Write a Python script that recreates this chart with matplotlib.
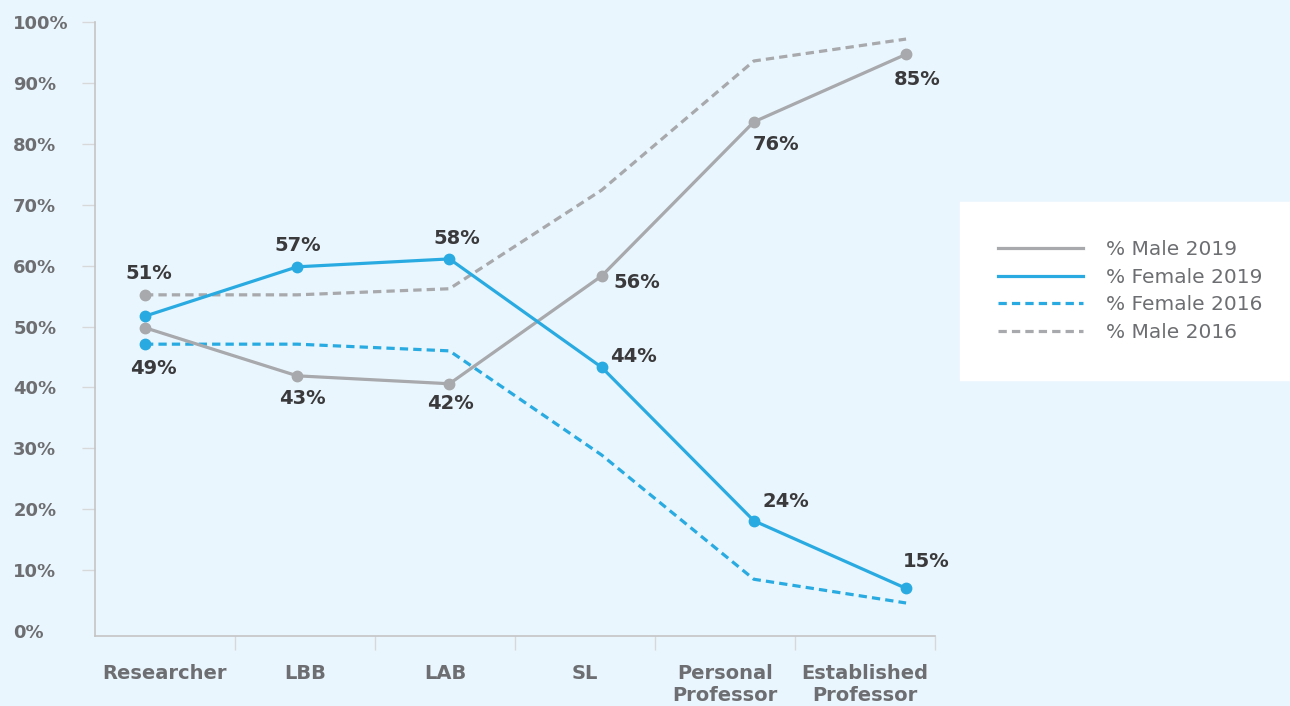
import numpy as np
import matplotlib
matplotlib.use("Agg")
import matplotlib.pyplot as plt
from matplotlib.lines import Line2D

# ---------------- data ----------------
categories = ["Researcher", "LBB", "LAB", "SL", "Personal\nProfessor", "Established\nProfessor"]
male_2019 = [49.8, 41.9, 40.6, 58.3, 83.6, 94.7]
female_2019 = [51.7, 59.8, 61.1, 43.3, 18.1, 7.0]
female_2016 = [47.1, 47.1, 46.0, 28.9, 8.5, 4.6]
male_2016 = [55.2, 55.2, 56.2, 72.4, 93.6, 97.2]
male_2019_labels = ["49%", "43%", "42%", "56%", "76%", "85%"]
female_2019_labels = ["51%", "57%", "58%", "44%", "24%", "15%"]
yticks = [0, 10, 20, 30, 40, 50, 60, 70, 80, 90, 100]
series_names = ["% Male 2019", "% Female 2019", "% Female 2016", "% Male 2016"]

# ---------------- style ----------------
BG = "#EAF6FD"
BLUE = "#29ABE2"
GRAY = "#A7A9AC"
TXT = "#6D6E71"
DARK = "#3A3A3C"
SPINE = "#C4C4C4"
FONT = "DejaVu Sans"
plt.rcParams["font.family"] = [FONT]

fig = plt.figure(figsize=(12.9, 7.06), dpi=100, facecolor=BG)
ax = fig.add_axes([95 / 1290, 1 - 636 / 706, 840 / 1290, 614 / 706])
ax.set_facecolor(BG)

x = np.arange(len(categories))
xlim = (-0.3285, 5.19)
ax.set_xlim(*xlim)
ax.set_ylim(-0.82, 100)

lw = 2.3
ms = 7.5
dash = (2.6, 1.6)
l_m19, = ax.plot(x, male_2019, color=GRAY, lw=lw, marker="o", ms=ms, zorder=3)
l_f19, = ax.plot(x, female_2019, color=BLUE, lw=lw, marker="o", ms=ms, zorder=4)
l_f16, = ax.plot(x, female_2016, color=BLUE, lw=lw, ls=(0, dash), marker="o", ms=ms,
                 markevery=[0], zorder=2)
l_m16, = ax.plot(x, male_2016, color=GRAY, lw=lw, ls=(0, dash), marker="o", ms=ms,
                 markevery=[0], zorder=2)

# data labels (offsets in pixels)
male_off = [(8, -41), (5, -23), (1, -20), (35, -7), (22, -23), (11, -25)]
female_off = [(4, 43), (1, 21), (7, 20), (32, 11), (32, 19), (20, 27)]
for xi, v, t, o in zip(x, male_2019, male_2019_labels, male_off):
    ax.annotate(t, (xi, v), xytext=o, textcoords="offset pixels", ha="center", va="center",
                fontsize=14, fontweight="bold", color=DARK, zorder=5)
for xi, v, t, o in zip(x, female_2019, female_2019_labels, female_off):
    ax.annotate(t, (xi, v), xytext=o, textcoords="offset pixels", ha="center", va="center",
                fontsize=14, fontweight="bold", color=DARK, zorder=5)

# y axis
ax.set_yticks(yticks)
ax.set_yticklabels([f"{v}%" for v in yticks])
ax.tick_params(axis="y", length=9.4, width=1, color="#D6D8DA", pad=49.5,
               labelsize=13, labelcolor=TXT)
for lab in ax.get_yticklabels():
    lab.set_horizontalalignment("left")
    lab.set_fontweight("bold")
ax.yaxis.get_major_ticks()[0].tick1line.set_visible(False)

# x axis: category bands
edges = np.linspace(xlim[0], xlim[1], len(categories) + 1)
centers = (edges[:-1] + edges[1:]) / 2
ax.set_xticks(edges[1:])
ax.set_xticklabels([])
ax.set_xticks(centers, minor=True)
ax.set_xticklabels(categories, minor=True, fontsize=14, fontweight="bold", color=TXT,
                   linespacing=1.2, va="top")
ax.tick_params(axis="x", which="major", length=10, width=1, color="#D6D8DA")
ax.tick_params(axis="x", which="minor", length=0, pad=20)

for s in ["top", "right"]:
    ax.spines[s].set_visible(False)
for s in ["left", "bottom"]:
    ax.spines[s].set_color(SPINE)
    ax.spines[s].set_linewidth(1.2)

# legend
handles = [
    Line2D([], [], color=GRAY, lw=lw),
    Line2D([], [], color=BLUE, lw=lw),
    Line2D([], [], color=BLUE, lw=lw, ls=(0, dash)),
    Line2D([], [], color=GRAY, lw=lw, ls=(0, dash)),
]
leg = fig.legend(handles, series_names, loc="upper left",
                 bbox_to_anchor=(960 / 1290, 1 - 377 / 706, 330 / 1290, 175 / 706),
                 mode="expand", borderaxespad=0, frameon=True, fancybox=False,
                 facecolor="white", edgecolor="white", framealpha=1,
                 fontsize=14.5, handlelength=4.2, handletextpad=1.15, labelspacing=0.42,
                 borderpad=1.9)
for t in leg.get_texts():
    t.set_color(TXT)

fig.savefig("out.png", dpi=100, facecolor=BG)
